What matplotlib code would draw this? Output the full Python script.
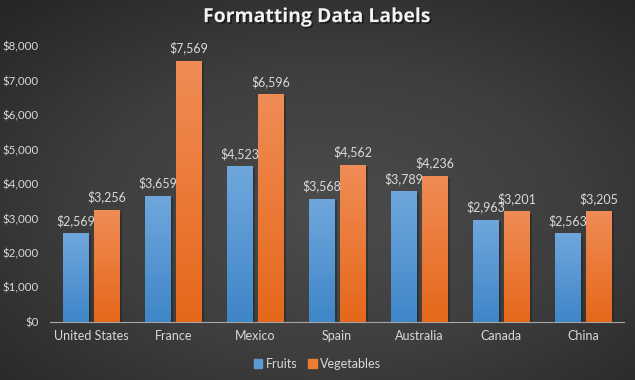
import numpy as np
import matplotlib.pyplot as plt
import matplotlib.patheffects as pe
from matplotlib.colors import LinearSegmentedColormap

countries = ['United States', 'France', 'Mexico', 'Spain', 'Australia', 'Canada', 'China']
fruits = [2569, 3659, 4523, 3568, 3789, 2963, 2563]
vegetables = [3256, 7569, 6596, 4562, 4236, 3201, 3205]
y_ticks = [0, 1000, 2000, 3000, 4000, 5000, 6000, 7000, 8000]

plt.rcParams['font.family'] = ['Lato', 'DejaVu Sans']

fig = plt.figure(figsize=(6.35, 3.8), dpi=100)

# radial background
bg = fig.add_axes([0, 0, 1, 1])
yy, xx = np.mgrid[0:380, 0:635]
r = np.sqrt(((xx - 330) / 635.0) ** 2 + ((yy - 210) / 380.0) ** 2)
r = r / r.max()
bg_cmap = LinearSegmentedColormap.from_list('bg', ['#4c4c4c', '#3e3e3e', '#252525'])
bg.imshow(r, cmap=bg_cmap, aspect='auto', extent=[0, 1, 0, 1])
bg.axis('off')

ax = fig.add_axes([0.079, 0.153, 0.904, 0.726])
ax.set_facecolor('none')

x = np.arange(len(countries))
w = 0.31
off = 0.19

blue_cmap = LinearSegmentedColormap.from_list('b', ['#3f86c8', '#6fa7dd'])
orange_cmap = LinearSegmentedColormap.from_list('o', ['#e5681a', '#f08c56'])

def grad_bars(xs, vals, cmap):
    bars = ax.bar(xs, vals, w, color='none', zorder=3)
    for b in bars:
        bx, by = b.get_x(), b.get_y()
        bw, bh = b.get_width(), b.get_height()
        # shadow
        ax.bar(bx + bw / 2 + 0.03, bh, bw, bottom=-60, color='#1e1e1e', alpha=0.45, zorder=2)
        grad = np.linspace(0, 1, 100).reshape(-1, 1)
        im = ax.imshow(grad, cmap=cmap, origin='lower', aspect='auto',
                       extent=[bx, bx + bw, by, by + bh], zorder=3)
        im.set_clip_path(b)
    return bars

grad_bars(x - off, fruits, blue_cmap)
grad_bars(x + off, vegetables, orange_cmap)

for i in range(len(countries)):
    ax.text(x[i] - off, fruits[i] + 180, '${:,}'.format(fruits[i]), ha='center', va='bottom',
            color='#d9d9d9', fontsize=9, zorder=5)
    ax.text(x[i] + off, vegetables[i] + 180, '${:,}'.format(vegetables[i]), ha='center', va='bottom',
            color='#d9d9d9', fontsize=9, zorder=5)

ax.set_xlim(-0.5, len(countries) - 0.5)
ax.set_ylim(0, 8000)
ax.set_yticks(y_ticks)
ax.set_yticklabels(['${:,}'.format(v) for v in y_ticks], color='#d9d9d9', fontsize=8.3)
ax.set_xticks(x)
ax.set_xticklabels(countries, color='#d9d9d9', fontsize=9)
ax.tick_params(length=0, pad=6)
ax.tick_params(axis='y', pad=8.5)
for s in ['top', 'right', 'left']:
    ax.spines[s].set_visible(False)
ax.spines['bottom'].set_color('#a6a6a6')
ax.spines['bottom'].set_linewidth(0.8)

fig.text(0.5, 0.955, 'Formatting Data Labels', ha='center', va='center', color='#f2f2f2',
         fontsize=14, fontweight='bold', family=['Open Sans', 'DejaVu Sans'],
         path_effects=[pe.withSimplePatchShadow(offset=(1.2, -1.2), shadow_rgbFace='#111111', alpha=0.7)])

# legend
h1 = plt.Rectangle((0, 0), 1, 1, color='#5b9bd5')
h2 = plt.Rectangle((0, 0), 1, 1, color='#ed7d31')
leg = fig.legend([h1, h2], ['Fruits', 'Vegetables'], loc='center', bbox_to_anchor=(0.5, 0.042),
                 ncol=2, frameon=False, fontsize=9, handlelength=0.7, handleheight=0.7,
                 handletextpad=0.3, columnspacing=0.8)
for t in leg.get_texts():
    t.set_color('#d9d9d9')

fig.savefig('out.png', dpi=100)
